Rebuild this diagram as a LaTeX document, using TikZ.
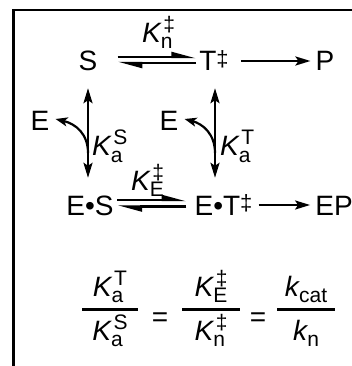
\documentclass[tikz,border=0pt]{standalone}
\usepackage{fontspec}
\setmainfont{Liberation Sans}
\usetikzlibrary{arrows.meta}
\newcommand{\dg}{\raisebox{4.2pt}{\fontsize{22}{22}\selectfont ‡}}
\newcommand{\SubSup}[2]{{\fontsize{21}{21}\selectfont
  \setbox0\hbox{\raisebox{-6pt}{#1}}%
  \setbox2\hbox{\raisebox{11pt}{\kern2.5pt #2}}%
  \ifdim\wd0>\wd2 \rlap{\box2}\box0 \else\rlap{\box0}\box2 \fi}}
\newcommand{\ksym}[3]{\textit{#1}\kern-1pt\SubSup{#2}{#3}}
\tikzset{
  lbl/.style={inner sep=0pt, font=\fontsize{28}{32}\selectfont},
  sp/.style={lbl, text height=20pt, text depth=0pt},
  arr/.style={line width=2.4pt, -{Stealth[length=15pt,width=9pt,inset=3pt]}},
  dbl/.style={line width=2.4pt, {Stealth[length=15pt,width=9pt,inset=3pt]}-{Stealth[length=15pt,width=9pt,inset=3pt]}},
  curv/.style={line width=2.2pt, -{Stealth[length=12pt,width=9pt,inset=3pt]}},
  harp/.style={line width=2.4pt, -{Stealth[harpoon,length=20pt,width=10pt,inset=0pt]}},
  frame/.style={line width=2.6pt},
  bar/.style={line width=3pt},
}
\begin{document}
\begin{tikzpicture}[x=1pt,y=-1pt]
\useasboundingbox (0,0) rectangle (352,366);
\draw[frame] (352,10) -- (13.5,10) -- (13.5,366);

% species
\node[sp] (S)  at (88,61)  {S};
\node[sp] (T)  at (214,61) {T\dg};
\node[sp] (P)  at (325,61) {P};
\node[sp] (ES) at (90,205) {E•S};
\node[sp] (ET) at (223.5,205) {E•T\dg};
\node[sp] (EP) at (334,205) {EP};
\node[sp] (E1) at (40,121) {E};
\node[sp] (E2) at (169,121) {E};

% labels
\node[lbl, anchor=base west] (Kn) at (142,43) {\ksym{K}{n}{‡}};
\node[lbl, anchor=base west] (KE) at (131,190) {\ksym{K}{E}{‡}};
\node[lbl, anchor=base west] (KaS) at (92,156) {\ksym{K}{a}{S}};
\node[lbl, anchor=base west] (KaT) at (220,156) {\ksym{K}{a}{T}};

% top row
\draw[harp] ([xshift=20pt,yshift=4pt]S.east) -- ([xshift=-3pt,yshift=4pt]T.west);
\draw[harp] ([xshift=-3pt,yshift=-2pt]T.west) -- ([xshift=20pt,yshift=-2pt]S.east);
\draw[arr] ([xshift=12pt]T.east) -- ([xshift=-5pt]P.west);

% bottom row
\draw[harp] ([xshift=3.5pt,yshift=5pt]ES.east) -- ([xshift=-8pt,yshift=5pt]ET.west);
\draw[harp] ([xshift=-8pt,yshift=-1.5pt]ET.west) -- ([xshift=3.5pt,yshift=-1.5pt]ES.east);
\draw[arr] ([xshift=6pt]ET.east) -- ([xshift=-5pt]EP.west);

% vertical equilibria
\draw[dbl] ([yshift=-17pt]S.south) -- ([yshift=17pt]S.south |- ES.north);
\draw[dbl] ([xshift=1pt,yshift=-17pt]T.south) -- ([xshift=1pt,yshift=17pt]T.south |- ET.north);

% release of E
\coordinate (c1) at (88,153);
\coordinate (c2) at (215,153);
\draw[curv] (c1) .. controls (88,134) and (76,124) .. ([xshift=6pt,yshift=2pt]E1.east);
\draw[curv] (c2) .. controls (215,134) and (203,124) .. ([xshift=6pt,yshift=2pt]E2.east);

% relation
\node[lbl, anchor=base] (n1) at (110,296) {\ksym{K}{a}{T}};
\node[lbl, anchor=base] (d1) at (110,340) {\ksym{K}{a}{S}};
\node[lbl, anchor=base] (n2) at (211,296) {\ksym{K}{E}{‡}};
\node[lbl, anchor=base] (d2) at (211,340) {\ksym{K}{n}{‡}};
\node[lbl, anchor=base] (n3) at (306,296) {\ksym{k}{cat}{}};
\node[lbl, anchor=base] (d3) at (306,340) {\ksym{k}{n}{}};
\node[lbl, anchor=base] (eq1) at (160,326) {=};
\node[lbl, anchor=base] (eq2) at (258,326) {=};
\draw[bar] (82,309) -- (138,309);
\draw[bar] (182,309) -- (240,309);
\draw[bar] (277,309) -- (335,309);
\end{tikzpicture}
\end{document}
